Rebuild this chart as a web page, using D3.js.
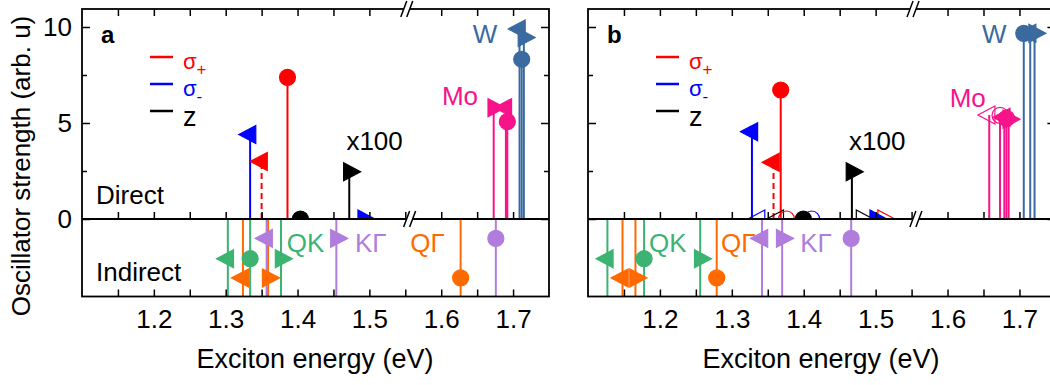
<!DOCTYPE html>
<html>
<head>
<meta charset="utf-8">
<script src="https://d3js.org/d3.v7.min.js"></script>
<style>
  body { margin: 0; background: #fff; }
  text { font-family: "Liberation Sans", Arial, sans-serif; }
</style>
</head>
<body>
<div id="chart"></div>
<script>
// rows: [series, energy (eV), oscillator strength, marker, variant]
// marker: "o" circle, "<" left triangle, ">" right triangle
var directA = [
  ["σ-", 1.334, 4.4, "<", ""],
  ["σ+", 1.350, 3.0, "<", "dashed"],
  ["σ+", 1.386, 7.38, "o", ""],
  ["z", 1.404, 0, "o", ""],
  ["z", 1.472, 2.46, ">", ""],
  ["σ-", 1.492, 0, ">", ""],
  ["Mo", 1.673, 5.8, ">", ""],
  ["Mo", 1.690, 5.8, "<", ""],
  ["Mo", 1.692, 5.07, "o", ""],
  ["W", 1.709, 9.9, "<", ""],
  ["W", 1.715, 9.45, ">", ""],
  ["W", 1.712, 8.32, "o", ""]
];
var indirectA = [
  ["QK", 1.303, -2.05, "<", ""],
  ["QK", 1.334, -2.05, "o", ""],
  ["QK", 1.377, -2.05, ">", ""],
  ["QΓ", 1.324, -3.04, "<", ""],
  ["QΓ", 1.359, -3.04, ">", ""],
  ["QΓ", 1.627, -3.04, "o", ""],
  ["KΓ", 1.357, -1.0, "<", ""],
  ["KΓ", 1.454, -1.0, ">", ""],
  ["KΓ", 1.676, -1.0, "o", ""]
];
var directB = [
  ["σ-", 1.328, 4.55, "<", ""],
  ["σ-", 1.338, 0, "<", "open"],
  ["z", 1.364, 0, "<", "open"],
  ["σ+", 1.376, 0, "o", "open"],
  ["σ+", 1.358, 2.95, "<", "dashed"],
  ["σ+", 1.368, 6.72, "o", ""],
  ["σ-", 1.411, 0, "o", "open"],
  ["z", 1.3995, 0, "o", ""],
  ["z", 1.467, 2.46, ">", ""],
  ["z", 1.481, 0, ">", "open"],
  ["σ+", 1.511, 0, ">", "open"],
  ["σ-", 1.500, 0, ">", ""],
  ["Mo", 1.658, 5.42, "<", "open"],
  ["Mo", 1.673, 5.4, "o", "open"],
  ["Mo", 1.679, 5.3, "<", ""],
  ["Mo", 1.685, 5.2, ">", ""],
  ["Mo", 1.682, 5.24, "o", ""],
  ["W", 1.706, 9.67, "o", ""],
  ["W", 1.715, 9.67, "<", ""],
  ["W", 1.721, 9.67, ">", ""]
];
var indirectB = [
  ["QK", 1.127, -2.05, "<", ""],
  ["QK", 1.178, -2.05, "o", ""],
  ["QK", 1.256, -2.05, ">", ""],
  ["QΓ", 1.148, -3.04, "<", ""],
  ["QΓ", 1.166, -3.04, ">", ""],
  ["QΓ", 1.279, -3.04, "o", ""],
  ["KΓ", 1.342, -1.0, "<", ""],
  ["KΓ", 1.370, -1.0, ">", ""],
  ["KΓ", 1.466, -1.0, "o", ""]
];
// annotation labels: [text, energy, strength, series]
var labelsA = [
  ["x100", 1.468, 3.6, "z"], ["Mo", 1.601, 5.94, "Mo"], ["W", 1.644, 9.17, "W"],
  ["QK", 1.385, -1.7, "QK"], ["KΓ", 1.480, -1.7, "KΓ"], ["QΓ", 1.557, -1.7, "QΓ"]
];
var labelsB = [
  ["x100", 1.463, 3.6, "z"], ["Mo", 1.603, 5.85, "Mo"], ["W", 1.648, 9.17, "W"],
  ["QK", 1.185, -1.7, "QK"], ["QΓ", 1.285, -1.7, "QΓ"], ["KΓ", 1.395, -1.7, "KΓ"]
];
var legendSeries = ["σ+", "σ-", "z"];
var xTicks = d3.range(23, 35).map(function (i) { return +(i * 0.05).toFixed(2); });
var yTicksMajor = [0, 5, 10];
var yTicksMinor = [2.5, 7.5];

var colors = {
  "σ+": "#ff0000", "σ-": "#0000ff", "z": "#000000", "Mo": "#f7138a", "W": "#3a6aa0",
  "QK": "#3cb371", "QΓ": "#ff6a00", "KΓ": "#b07ddc"
};

var svg = d3.select("#chart").append("svg")
  .attr("width", 1050).attr("height", 385);

var top0 = 9, zeroY = 219, bottom0 = 296.5;

var panels = [
  { key: "a", x0: 82, x1: 549, direct: directA, indirect: indirectA, labels: labelsA, yLabels: true, texts: true },
  { key: "b", x0: 588, x1: 1055.4, direct: directB, indirect: indirectB, labels: labelsB, yLabels: false, texts: false }
];

var triW = 17, triH = 18, circR = 8;
function markerPath(m) {
  if (m === "o") return d3.arc()({ innerRadius: 0, outerRadius: circR, startAngle: 0, endAngle: 2 * Math.PI });
  if (m === "<") return "M" + (-2 * triW / 3) + ",0L" + (triW / 3) + "," + (-triH / 2) + "L" + (triW / 3) + "," + (triH / 2) + "Z";
  return "M" + (2 * triW / 3) + ",0L" + (-triW / 3) + "," + (-triH / 2) + "L" + (-triW / 3) + "," + (triH / 2) + "Z";
}

panels.forEach(function (p) {
  var x = d3.scaleLinear().domain([1.1, 1.75]).range([p.x0, p.x1]);
  var yTop = d3.scaleLinear().domain([0, 10]).range([zeroY, 27]);
  var yBot = d3.scaleLinear().domain([-4, 0]).range([bottom0, zeroY]);
  var g = svg.append("g");

  var clipT = "clipT" + p.key, clipB = "clipB" + p.key;
  var defs = svg.append("defs");
  defs.append("clipPath").attr("id", clipT).append("rect")
    .attr("x", p.x0).attr("y", top0).attr("width", p.x1 - p.x0).attr("height", zeroY - top0);
  defs.append("clipPath").attr("id", clipB).append("rect")
    .attr("x", p.x0).attr("y", zeroY).attr("width", p.x1 - p.x0).attr("height", bottom0 - zeroY);

  // direct stems + markers
  var gt = g.append("g").attr("clip-path", "url(#" + clipT + ")");
  gt.selectAll("line").data(p.direct.filter(function (d) { return d[2] > 0; })).enter().append("line")
    .attr("x1", function (d) { return x(d[1]); }).attr("x2", function (d) { return x(d[1]); })
    .attr("y1", yTop(0)).attr("y2", function (d) { return yTop(d[2]); })
    .attr("stroke", function (d) { return colors[d[0]]; })
    .attr("stroke-width", 2)
    .attr("stroke-dasharray", function (d) { return d[4] === "dashed" ? "6,4" : null; });
  gt.selectAll("path").data(p.direct).enter().append("path")
    .attr("d", function (d) { return markerPath(d[3]); })
    .attr("transform", function (d) { return "translate(" + x(d[1]) + "," + yTop(d[2]) + ")"; })
    .attr("fill", function (d) { return d[4] === "open" ? "none" : colors[d[0]]; })
    .attr("stroke", function (d) { return colors[d[0]]; })
    .attr("stroke-width", 1.2);

  // indirect stems + markers
  var gb = g.append("g").attr("clip-path", "url(#" + clipB + ")");
  gb.selectAll("line").data(p.indirect).enter().append("line")
    .attr("x1", function (d) { return x(d[1]); }).attr("x2", function (d) { return x(d[1]); })
    .attr("y1", yBot(0)).attr("y2", yBot(-4))
    .attr("stroke", function (d) { return colors[d[0]]; })
    .attr("stroke-width", 2);
  gb.selectAll("path").data(p.indirect).enter().append("path")
    .attr("d", function (d) { return markerPath(d[3]); })
    .attr("transform", function (d) { return "translate(" + x(d[1]) + "," + yBot(d[2]) + ")"; })
    .attr("fill", function (d) { return colors[d[0]]; })
    .attr("stroke", function (d) { return colors[d[0]]; })
    .attr("stroke-width", 1.2);

  // axes
  var fmt = function (d) { return Math.round(d * 100) % 10 === 0 ? d.toFixed(1) : ""; };
  var axB = g.append("g").attr("transform", "translate(0," + bottom0 + ")")
    .call(d3.axisBottom(x).tickValues(xTicks).tickSize(-7).tickSizeOuter(0).tickPadding(13).tickFormat(fmt));
  var axT = g.append("g").attr("transform", "translate(0," + top0 + ")")
    .call(d3.axisTop(x).tickValues(xTicks).tickSize(-7).tickSizeOuter(0).tickFormat(""));
  var axZ = g.append("g").attr("transform", "translate(0," + zeroY + ")")
    .call(d3.axisTop(x).tickValues(xTicks).tickSize(7).tickSizeOuter(0).tickFormat(""));
  var axL = g.append("g").attr("transform", "translate(" + p.x0 + ",0)")
    .call(d3.axisLeft(yTop).tickValues(yTicksMajor).tickSize(-8).tickSizeOuter(0).tickPadding(10)
      .tickFormat(p.yLabels ? d3.format("d") : ""));
  var axLm = g.append("g").attr("transform", "translate(" + p.x0 + ",0)")
    .call(d3.axisLeft(yTop).tickValues(yTicksMinor).tickSize(-5).tickSizeOuter(0).tickFormat(""));
  var axR = g.append("g").attr("transform", "translate(" + p.x1 + ",0)")
    .call(d3.axisRight(yTop).tickValues(yTicksMajor).tickSize(-8).tickSizeOuter(0).tickFormat(""));
  var axRm = g.append("g").attr("transform", "translate(" + p.x1 + ",0)")
    .call(d3.axisRight(yTop).tickValues(yTicksMinor).tickSize(-5).tickSizeOuter(0).tickFormat(""));
  [axB, axT, axZ, axL, axLm, axR, axRm].forEach(function (a) {
    a.select(".domain").remove();
    a.selectAll("line").attr("stroke", "#000").attr("stroke-width", 1.5);
    a.selectAll("text").attr("font-size", 26).attr("fill", "#000")
      .attr("font-family", "'Liberation Sans', Arial, sans-serif");
  });

  // frame and zero line
  g.append("rect").attr("x", p.x0).attr("y", top0).attr("width", p.x1 - p.x0).attr("height", bottom0 - top0)
    .attr("fill", "none").attr("stroke", "#000").attr("stroke-width", 1.8);
  g.append("line").attr("x1", p.x0).attr("x2", p.x1).attr("y1", zeroY).attr("y2", zeroY)
    .attr("stroke", "#000").attr("stroke-width", 1.8);

  // axis break marks
  [[top0, 1.552], [zeroY, 1.556]].forEach(function (b) {
    var bx = x(b[1]), by = b[0];
    g.append("polygon")
      .attr("points", [[bx - 6, by + 8], [bx, by - 8], [bx + 6, by - 8], [bx, by + 8]].join(" "))
      .attr("fill", "#fff");
    [-3, 3].forEach(function (o) {
      g.append("line").attr("x1", bx + o - 3).attr("y1", by + 8).attr("x2", bx + o + 3).attr("y2", by - 8)
        .attr("stroke", "#000").attr("stroke-width", 1.5);
    });
  });

  // panel letter
  g.append("text").attr("x", p.x0 + 19).attr("y", 43).text(p.key)
    .attr("font-size", 24).attr("font-weight", "bold");

  // legend
  legendSeries.forEach(function (s, i) {
    var ly = 57 + i * 27;
    g.append("line").attr("x1", p.x0 + 68).attr("x2", p.x0 + 91).attr("y1", ly).attr("y2", ly)
      .attr("stroke", colors[s]).attr("stroke-width", 2.5);
    var t = g.append("text").attr("x", p.x0 + 101).attr("y", ly + 11 + (s === "z" ? 4 : 1))
      .attr("fill", colors[s]);
    if (s === "z") {
      t.attr("font-size", 27).text("z");
    } else {
      t.attr("font-size", 22).text("σ");
      t.append("tspan").attr("font-size", 17).attr("dy", 6).text(s.slice(1));
    }
  });

  // annotations
  p.labels.forEach(function (l) {
    var ly = l[2] >= 0 ? yTop(l[2]) : yBot(l[2]);
    g.append("text").attr("x", x(l[1])).attr("y", ly).text(l[0])
      .attr("font-size", 26).attr("fill", colors[l[3]]);
  });

  if (p.texts) {
    g.append("text").attr("x", p.x0 + 14).attr("y", 204).text("Direct").attr("font-size", 26);
    g.append("text").attr("x", p.x0 + 14).attr("y", 281).text("Indirect").attr("font-size", 26);
  }

  // x axis title
  g.append("text").attr("x", x(1.1) + 233).attr("y", 368).attr("text-anchor", "middle")
    .attr("font-size", 27).text("Exciton energy (eV)");
});

svg.append("text").attr("transform", "translate(30,166) rotate(-90)")
  .attr("text-anchor", "middle").attr("font-size", 26).text("Oscillator strength (arb. u)");
</script>
</body>
</html>
